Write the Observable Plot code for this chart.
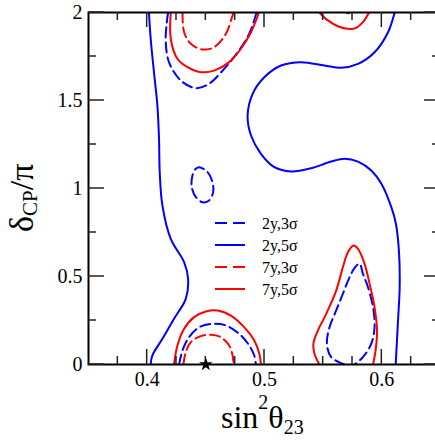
<!DOCTYPE html>
<html><head><meta charset="utf-8">
<script src="https://cdn.jsdelivr.net/npm/d3@7"></script>
<script src="https://cdn.jsdelivr.net/npm/@observablehq/plot@0.6"></script>
<style>
html,body{margin:0;padding:0;background:#fff;overflow:hidden}
#chart{width:435px;height:441px;overflow:hidden;position:relative}
#chart svg{max-width:none !important}
#chart svg text{font-family:"Liberation Serif","Times New Roman",serif !important}
</style></head><body><div id="chart"></div>
<script>
// axis ticks
const xMajorTicks = [0.4, 0.5, 0.6];
const xMinorTicks = [0.375, 0.425, 0.45, 0.475, 0.525, 0.55, 0.575, 0.625];
const yMajorTicks = [0, 0.5, 1, 1.5, 2];
const yMinorTicks = [0.25, 0.75, 1.25, 1.75];

// best-fit point
const bestFit = [{x: 0.45, y: 0}];

// 2y, 5sigma (blue solid)
const b5Left = [[0.4015,2.0],[0.4030,1.851],[0.4058,1.661],[0.4087,1.472],[0.4101,1.282],[0.4107,1.093],[0.4130,0.903],[0.4201,0.714],[0.4315,0.581],[0.4349,0.487],[0.4329,0.373],[0.4229,0.260],[0.4130,0.146],[0.4044,0.051],[0.4030,0.0]];
const b5Right = [[0.6109,2.0],[0.6053,1.888],[0.5938,1.774],[0.5797,1.708],[0.5654,1.686],[0.5511,1.699],[0.5312,1.718],[0.5141,1.699],[0.4998,1.632],[0.4899,1.538],[0.4856,1.415],[0.4885,1.301],[0.4970,1.197],[0.5084,1.121],[0.5226,1.097],[0.5397,1.115],[0.5568,1.153],[0.5682,1.169],[0.5797,1.153],[0.5910,1.102],[0.5996,1.027],[0.6081,0.894],[0.6120,0.800],[0.6147,0.631],[0.6152,0.439],[0.6138,0.250],[0.6118,0.0]];

// 2y, 3sigma (blue dashed)
const b3Top = [[0.4178,2.0],[0.4158,1.851],[0.4186,1.718],[0.4286,1.614],[0.4415,1.570],[0.4528,1.595],[0.4656,1.680],[0.4771,1.774],[0.4870,1.879],[0.4932,2.0]];
const b3Mid = [[0.4443,1.121],[0.4515,1.093],[0.4557,1.036],[0.4562,0.979],[0.4528,0.932],[0.4472,0.922],[0.4415,0.951],[0.4380,1.007],[0.4386,1.074],[0.4415,1.112]];
const b3Bottom = [[0.4272,0.0],[0.4301,0.080],[0.4357,0.155],[0.4443,0.212],[0.4557,0.231],[0.4671,0.222],[0.4785,0.174],[0.4870,0.108],[0.4913,0.051],[0.4927,0.0]];
const b3Drop = [[0.5682,0.0],[0.5568,0.042],[0.5532,0.118],[0.5554,0.212],[0.5611,0.307],[0.5668,0.402],[0.5725,0.496],[0.5768,0.549],[0.5810,0.572],[0.5839,0.515],[0.5882,0.439],[0.5925,0.326],[0.5938,0.212],[0.5910,0.118],[0.5839,0.042],[0.5768,0.0]];
const b3TopRight = [[0.5698,2.0],[0.5711,1.996],[0.5724,2.0]];

// 7y, 3sigma (red dashed)
const r3Top = [[0.4301,2.0],[0.4315,1.888],[0.4372,1.822],[0.4472,1.790],[0.4571,1.803],[0.4671,1.879],[0.4728,1.983],[0.4737,2.0]];
const r3Bottom = [[0.4309,0.0],[0.4329,0.070],[0.4372,0.127],[0.4457,0.161],[0.4543,0.169],[0.4628,0.155],[0.4699,0.108],[0.4728,0.051],[0.4737,0.0]];

// 7y, 5sigma (red solid)
const r5Top = [[0.4201,2.0],[0.4201,1.851],[0.4258,1.737],[0.4344,1.689],[0.4457,1.661],[0.4571,1.670],[0.4699,1.718],[0.4799,1.794],[0.4885,1.888],[0.4953,2.0]];
const r5TopRight = [[0.5468,2.0],[0.5540,1.955],[0.5626,1.922],[0.5711,1.907],[0.5782,1.913],[0.5839,1.945],[0.5891,2.0]];
const r5Bottom = [[0.4229,0.0],[0.4258,0.108],[0.4315,0.203],[0.4400,0.269],[0.4500,0.301],[0.4600,0.307],[0.4714,0.278],[0.4827,0.212],[0.4913,0.136],[0.4956,0.061],[0.4970,0.0]];
const r5Drop = [[0.5468,0.0],[0.5426,0.061],[0.5417,0.118],[0.5455,0.193],[0.5526,0.288],[0.5611,0.420],[0.5668,0.553],[0.5711,0.638],[0.5759,0.676],[0.5797,0.657],[0.5853,0.572],[0.5896,0.458],[0.5938,0.326],[0.5959,0.193],[0.5947,0.080],[0.5925,0.0]];

// legend
const legendLabels = ["2y,3σ", "2y,5σ", "7y,3σ", "7y,5σ"];
const legendColors = ["#0000ff", "#0000ff", "#ff0000", "#ff0000"];
const legendDashed = [true, false, true, false];

const BLUE = "#0000ff", RED = "#ff0000", DASH = "10,5";
const serif = "Liberation Serif, Times New Roman, serif";

function contour(data, color, dashed, curve = "catmull-rom") {
  return Plot.line(data, {x: d => d[0], y: d => d[1], stroke: color, strokeWidth: 2,
    strokeDasharray: dashed ? DASH : null, curve, clip: true});
}

const plot = Plot.plot({
  width: 440, height: 441,
  marginLeft: 88, marginRight: 0, marginTop: 12, marginBottom: 77,
  style: {fontFamily: serif, background: "white", color: "black", maxWidth: "none"},
  x: {domain: [0.35, 0.65]},
  y: {domain: [0, 2]},
  marks: [
    contour(b5Left, BLUE, false),
    contour(b5Right, BLUE, false),
    contour(b3Top, BLUE, true),
    contour(b3Mid, BLUE, true, "catmull-rom-closed"),
    contour(b3Bottom, BLUE, true),
    contour(b3Drop, BLUE, true),
    contour(b3TopRight, BLUE, false),
    contour(r3Top, RED, true),
    contour(r3Bottom, RED, true),
    contour(r5Top, RED, false),
    contour(r5TopRight, RED, false),
    contour(r5Bottom, RED, false),
    contour(r5Drop, RED, false),
    Plot.frame({stroke: "black", strokeWidth: 2}),
    // tick labels
    Plot.axisX({ticks: xMajorTicks, anchor: "bottom", tickSize: 0, tickPadding: 7, tickFormat: d => String(d), fontSize: 20, label: null}),
    Plot.axisY({ticks: yMajorTicks, anchor: "left", tickSize: 0, tickPadding: 6, tickFormat: d => String(d), fontSize: 20, label: null}),
    Plot.dot(bestFit, {x: "x", y: "y", symbol: "star", r: 4.2, fill: "black", stroke: "none"})
  ]
});
plot.style.maxWidth = "none";

const svg = d3.select(plot);
const sx = plot.scale("x"), sy = plot.scale("y");
const [x0, x1] = sx.range, [y0, y1] = sy.range; // y0 bottom, y1 top

// inward ticks on all four sides, drawn from the plot's own scales
const tk = svg.append("g").attr("stroke", "#222").attr("stroke-width", 1.5);
function xTicks(vals, len) {
  vals.forEach(v => {
    const px = sx.apply(v);
    tk.append("line").attr("x1", px).attr("x2", px).attr("y1", y0).attr("y2", y0 - len);
    tk.append("line").attr("x1", px).attr("x2", px).attr("y1", y1).attr("y2", y1 + len);
  });
}
function yTicks(vals, len) {
  vals.forEach(v => {
    const py = sy.apply(v);
    tk.append("line").attr("y1", py).attr("y2", py).attr("x1", x0).attr("x2", x0 + len);
    tk.append("line").attr("y1", py).attr("y2", py).attr("x1", x1).attr("x2", x1 - len);
  });
}
xTicks(xMajorTicks, 15); xTicks(xMinorTicks, 8);
yTicks(yMajorTicks, 16); yTicks(yMinorTicks, 8);
// keep the star above the ticks
svg.node().appendChild(svg.select('g[aria-label="dot"]').node());

// x-axis title: sin^2 theta_23
const xt = svg.append("text").attr("x", 221).attr("y", 428).attr("text-anchor", "start")
  .style("font-size", "32px").attr("fill", "black");
xt.append("tspan").text("sin");
xt.append("tspan").style("font-size", "20px").attr("dy", -19).text("2");
xt.append("tspan").attr("dy", 19).text("θ");
xt.append("tspan").style("font-size", "20px").attr("dy", 6).text("23");

// y-axis title: delta_CP / pi
const yt = svg.append("text").attr("transform", "translate(33,232) rotate(-90)").attr("text-anchor", "start")
  .style("font-size", "34px").attr("fill", "black");
yt.append("tspan").text("δ");
yt.append("tspan").style("font-size", "21px").attr("dy", 4).text("CP");
yt.append("tspan").attr("dy", -4).text("/π");

// legend
const lg = svg.append("g");
legendLabels.forEach((lab, i) => {
  const yy = 223 + i * 22;
  lg.append("line").attr("x1", 215).attr("x2", 245).attr("y1", yy).attr("y2", yy)
    .attr("stroke", legendColors[i]).attr("stroke-width", 2)
    .attr("stroke-dasharray", legendDashed[i] ? "12,6" : null);
  lg.append("text").attr("x", 262).attr("y", yy + 5.5).attr("text-anchor", "start")
    .style("font-size", "16px").attr("fill", "black").text(lab);
});

document.getElementById("chart").appendChild(plot);
</script></body></html>
